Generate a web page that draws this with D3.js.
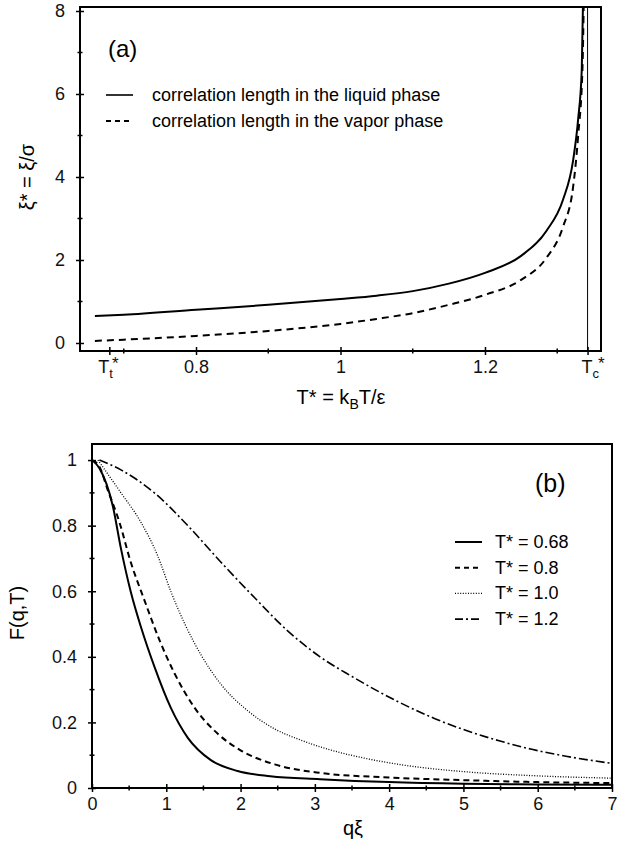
<!DOCTYPE html>
<html>
<head>
<meta charset="utf-8">
<script src="https://cdn.jsdelivr.net/npm/d3@7"></script>
<style>
  body { margin: 0; background: #fff; }
  svg { display: block; font-family: "Liberation Sans", Arial, sans-serif; }
</style>
</head>
<body>
<script>
// panel (a): correlation length vs reduced temperature
const Tt = 0.68;
const Tc = 1.342;
const tLiquid = [0.66, 0.70, 0.80, 0.90, 1.00, 1.05, 1.10, 1.15, 1.20, 1.25, 1.285, 1.308, 1.322, 1.329, 1.334, 1.3358];
const xiLiquid = [0.65, 0.68, 0.80, 0.92, 1.06, 1.14, 1.25, 1.43, 1.69, 2.1, 2.7, 3.45, 4.4, 5.4, 6.6, 8.3];
const tVapor = [0.66, 0.70, 0.80, 0.90, 1.00, 1.05, 1.10, 1.15, 1.20, 1.25, 1.285, 1.308, 1.322, 1.329, 1.335, 1.3368];
const xiVapor = [0.05, 0.08, 0.17, 0.29, 0.46, 0.58, 0.72, 0.92, 1.16, 1.52, 2.05, 2.8, 3.76, 5.0, 6.65, 8.3];
const aXTicks = [Tt, 0.8, 1.0, 1.2, Tc];
const aXMinor = [0.7, 0.9, 1.1, 1.3];
const aYTicks = [0, 2, 4, 6, 8];
const aYMinor = [1, 3, 5, 7];
const aLegend = ['correlation length in the liquid phase', 'correlation length in the vapor phase'];

// panel (b): F(q,T)
const q068 = [0, 0.1, 0.28, 0.39, 0.52, 0.66, 0.84, 1.06, 1.29, 1.60, 1.96, 2.40, 3.07, 4, 5, 6, 7];
const f068 = [1, 0.975, 0.86, 0.73, 0.60, 0.49, 0.37, 0.245, 0.153, 0.085, 0.052, 0.036, 0.027, 0.018, 0.013, 0.011, 0.01];
const q080 = [0, 0.1, 0.21, 0.37, 0.52, 0.71, 0.91, 1.11, 1.38, 1.69, 2.0, 2.46, 3.07, 4, 5, 6, 7];
const f080 = [1, 0.98, 0.91, 0.81, 0.69, 0.57, 0.45, 0.35, 0.245, 0.166, 0.115, 0.072, 0.046, 0.032, 0.024, 0.018, 0.015];
const q100 = [0.08, 0.39, 0.66, 0.89, 1.06, 1.25, 1.47, 1.74, 2.1, 2.46, 2.8, 3.18, 3.69, 4.13, 5, 6, 7];
const f100 = [1.0, 0.90, 0.81, 0.705, 0.60, 0.50, 0.405, 0.315, 0.235, 0.18, 0.147, 0.118, 0.09, 0.072, 0.05, 0.037, 0.03];
const q120 = [0.1, 0.39, 0.84, 1.29, 1.73, 2.19, 2.63, 3.07, 3.5, 4.13, 4.58, 5.03, 5.48, 5.92, 6.38, 7];
const f120 = [1.0, 0.97, 0.90, 0.80, 0.69, 0.58, 0.48, 0.40, 0.34, 0.262, 0.215, 0.176, 0.144, 0.118, 0.097, 0.075];
const bLegend = ['T* = 0.68', 'T* = 0.8', 'T* = 1.0', 'T* = 1.2'];
const bXTicks = [0, 1, 2, 3, 4, 5, 6, 7];
const bXMinor = [0.5, 1.5, 2.5, 3.5, 4.5, 5.5, 6.5];
const bYTicks = [0, 0.2, 0.4, 0.6, 0.8, 1];
const bYMinor = [0.1, 0.3, 0.5, 0.7, 0.9];

const svg = d3.select('body').append('svg').attr('width', 623).attr('height', 849);
svg.append('rect').attr('width', 623).attr('height', 849).attr('fill', '#fff');

function zip(xs, ys) {
  return xs.map((v, i) => [v, ys[i]]);
}

function axes(g, x, y, xt, xm, yt, ym, xfmt, yfmt) {
  const [x0, x1] = x.range();
  const [y0, y1] = y.range();
  const ax = g.append('g').attr('transform', `translate(0,${y0})`)
    .call(d3.axisBottom(x).tickValues(xt).tickFormat(xfmt).tickSizeInner(4).tickSizeOuter(0).tickPadding(5));
  ax.selectAll('.tick line').attr('y1', -4).attr('y2', 4).attr('stroke-width', 1.5);
  const ay = g.append('g').attr('transform', `translate(${x0},0)`)
    .call(d3.axisLeft(y).tickValues(yt).tickFormat(yfmt).tickSizeInner(4).tickSizeOuter(0).tickPadding(11));
  ay.selectAll('.tick line').attr('x1', -4).attr('x2', 4).attr('stroke-width', 1.5);
  [ax, ay].forEach(a => {
    a.select('.domain').remove();
    a.attr('font-size', 18).attr('font-family', null);
    a.selectAll('.tick text').attr('fill', '#111');
    a.selectAll('.tick text').filter(function () { return this.textContent === ''; }).remove();
  });
  g.selectAll('.xminor').data(xm).join('line')
    .attr('x1', d => x(d)).attr('x2', d => x(d))
    .attr('y1', y0 - 2.5).attr('y2', y0 + 2.5)
    .attr('stroke', '#000').attr('stroke-width', 1.5);
  g.selectAll('.yminor').data(ym).join('line')
    .attr('y1', d => y(d)).attr('y2', d => y(d))
    .attr('x1', x0 - 2.5).attr('x2', x0 + 2.5)
    .attr('stroke', '#000').attr('stroke-width', 1.5);
  g.append('rect')
    .attr('x', x0).attr('y', y1).attr('width', x1 - x0).attr('height', y0 - y1)
    .attr('fill', 'none').attr('stroke', '#000').attr('stroke-width', 2);
}

// ---------- panel (a)
const xa = d3.scaleLinear().domain([0.6394, 1.3606]).range([80, 601]);
const ya = d3.scaleLinear().domain([-0.193, 8.096]).range([351, 7]);
const ga = svg.append('g');

ga.append('clipPath').attr('id', 'clipA').append('rect')
  .attr('x', 80).attr('y', 7).attr('width', 521).attr('height', 344);

ga.append('line')
  .attr('x1', xa(Tc)).attr('x2', xa(Tc)).attr('y1', 7).attr('y2', 351)
  .attr('stroke', '#000').attr('stroke-width', 1);

const lineA = d3.line().x(d => xa(d[0])).y(d => ya(d[1])).curve(d3.curveMonotoneX);
ga.append('path').datum(zip(tLiquid, xiLiquid)).attr('d', lineA)
  .attr('clip-path', 'url(#clipA)')
  .attr('fill', 'none').attr('stroke', '#000').attr('stroke-width', 2);
ga.append('path').datum(zip(tVapor, xiVapor)).attr('d', lineA)
  .attr('clip-path', 'url(#clipA)')
  .attr('fill', 'none').attr('stroke', '#000').attr('stroke-width', 2)
  .attr('stroke-dasharray', '7,5');

axes(ga, xa, ya, aXTicks, aXMinor, aYTicks, aYMinor,
  d => (d === Tt || d === Tc) ? '' : d3.format('')(d), d => d);

// subscripted T labels
[[Tt, 't', -11], [Tc, 'c', -6]].forEach(([v, s, off]) => {
  const t = ga.append('text').attr('x', xa(v) + off).attr('y', 373)
    .attr('font-size', 18).attr('fill', '#111');
  t.append('tspan').text('T');
  t.append('tspan').attr('font-size', 13).attr('dy', 5).text(s);
  t.append('tspan').attr('font-size', 17).attr('dx', -1).attr('dy', -9).text('*');
});

ga.append('text').attr('x', 108).attr('y', 57).attr('font-size', 24).text('(a)');

aLegend.forEach((s, i) => {
  const yy = 95 + i * 26;
  ga.append('line').attr('x1', 106).attr('x2', 133).attr('y1', yy).attr('y2', yy)
    .attr('stroke', '#000').attr('stroke-width', i ? 2 : 1.6)
    .attr('stroke-dasharray', i ? '5,4' : null);
  ga.append('text').attr('x', 152).attr('y', yy + 6).attr('font-size', 18).text(s);
});

const xla = ga.append('text').attr('x', 341).attr('y', 404).attr('font-size', 20)
  .attr('text-anchor', 'middle');
xla.append('tspan').text('T* = k');
xla.append('tspan').attr('font-size', 14).attr('dy', 5).text('B');
xla.append('tspan').attr('dy', -5).text('T/\u03b5');

ga.append('text').attr('transform', 'translate(34,177) rotate(-90)')
  .attr('text-anchor', 'middle').attr('font-size', 20).text('\u03be* = \u03be/\u03c3');

// ---------- panel (b)
const xb = d3.scaleLinear().domain([0, 7]).range([92, 612]);
const yb = d3.scaleLinear().domain([0, 1.049]).range([788, 444]);
const gb = svg.append('g');

gb.append('clipPath').attr('id', 'clipB').append('rect')
  .attr('x', 92).attr('y', 444).attr('width', 520).attr('height', 344);

const lineB = d3.line().x(d => xb(d[0])).y(d => yb(d[1])).curve(d3.curveMonotoneX);
const bSeries = [
  { d: zip(q068, f068), w: 2, dash: null },
  { d: zip(q080, f080), w: 2, dash: '6,4' },
  { d: zip(q100, f100), w: 1.3, dash: '1,1.6' },
  { d: zip(q120, f120), w: 1.6, dash: '9,3,2,3' }
];
bSeries.forEach(s => {
  gb.append('path').datum(s.d).attr('d', lineB)
    .attr('clip-path', 'url(#clipB)')
    .attr('fill', 'none').attr('stroke', '#000')
    .attr('stroke-width', s.w).attr('stroke-dasharray', s.dash);
});

axes(gb, xb, yb, bXTicks, bXMinor, bYTicks, bYMinor, d => d, d => d);

gb.append('text').attr('x', 535).attr('y', 492).attr('font-size', 25).text('(b)');

bLegend.forEach((s, i) => {
  const yy = 542 + i * 25.7;
  const st = bSeries[i];
  gb.append('line').attr('x1', 455).attr('x2', 482).attr('y1', yy).attr('y2', yy)
    .attr('stroke', '#000').attr('stroke-width', st.w)
    .attr('stroke-dasharray', i === 1 ? '5,4' : (i === 3 ? '8,3,2,3' : st.dash));
  gb.append('text').attr('x', 495).attr('y', yy + 6).attr('font-size', 18).text(s);
});

gb.append('text').attr('x', 353).attr('y', 835).attr('font-size', 20)
  .attr('text-anchor', 'middle').text('q\u03be');

gb.append('text').attr('transform', 'translate(24,613) rotate(-90)')
  .attr('text-anchor', 'middle').attr('font-size', 20).text('F(q,T)');
</script>
</body>
</html>
